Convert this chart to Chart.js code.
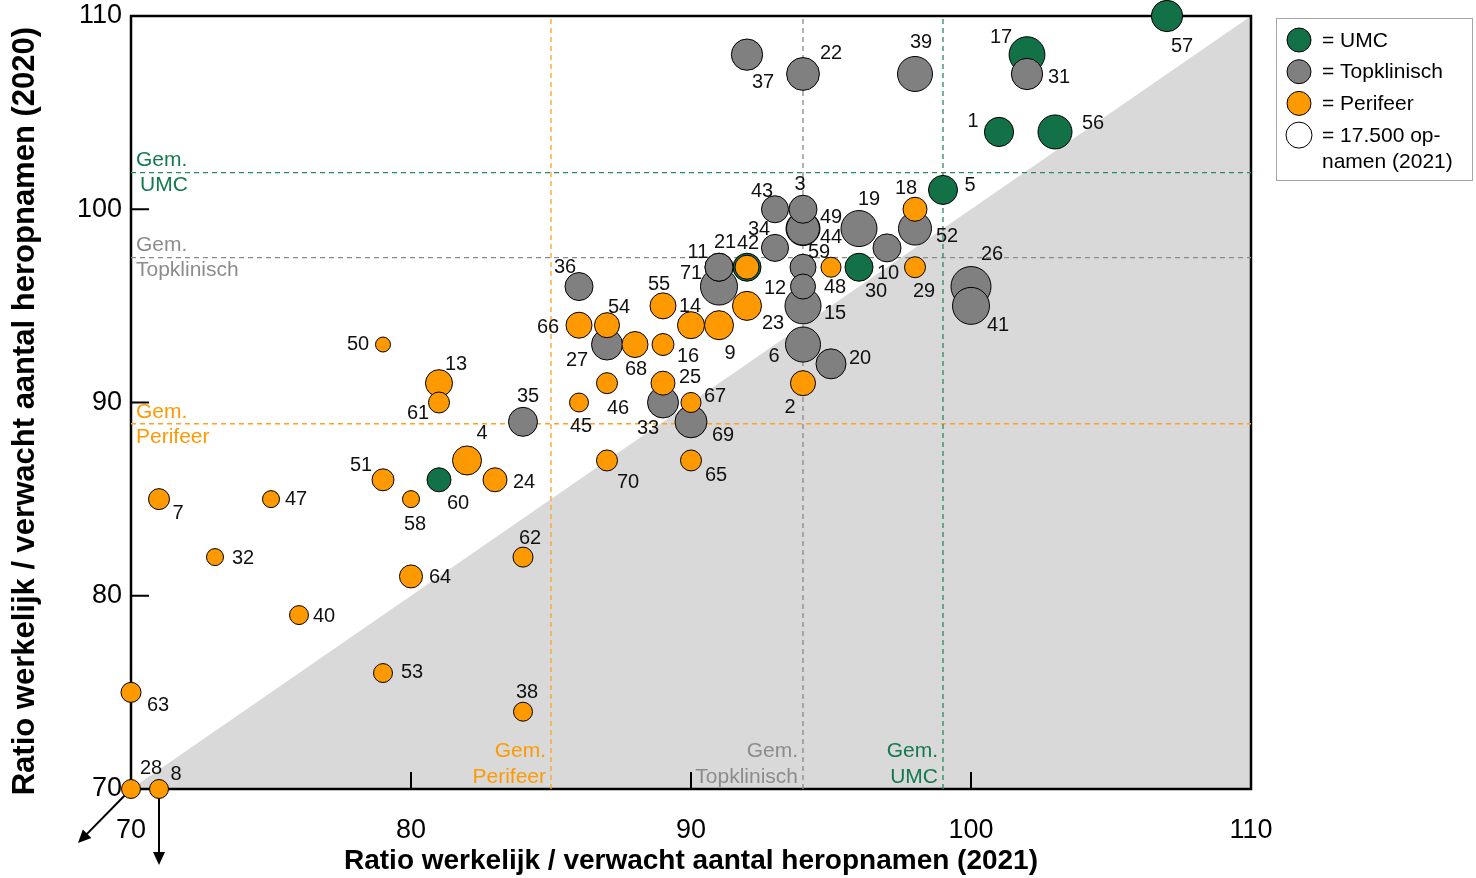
<!DOCTYPE html>
<html>
<head>
<meta charset="utf-8">
<script src="https://cdn.jsdelivr.net/npm/chart.js@4.4.0/dist/chart.umd.min.js"></script>
<style>
  html, body { margin: 0; padding: 0; background: #fff; }
</style>
</head>
<body>
<canvas id="myChart" width="1476" height="878"></canvas>
<script>
// nummer ziekenhuis ("" = niet gelabeld, ligt onder 42)
const nummers = [
  "1","2","3","4","5","6","7","8","9","10",
  "11","12","13","14","15","16","17","18","19","20",
  "21","22","23","24","25","26","27","28","29","30",
  "31","32","33","34","35","36","37","38","39","40",
  "41","42","43","44","45","46","47","48","49","50",
  "51","52","53","54","55","56","57","58","59","60",
  "61","62","63","64","65","66","67","68","69","70",
  "71",""
];
const ratio2021 = [
  101, 94, 94, 82, 99, 94, 71, 71, 91, 97,
  91, 94, 81, 90, 94, 89, 102, 98, 96, 95,
  91, 94, 92, 83, 89, 100, 87, 70, 98, 96,
  102, 73, 89, 93, 84, 86, 92, 84, 98, 76,
  100, 92, 93, 94, 86, 87, 75, 95, 94, 79,
  79, 98, 79, 87, 89, 103, 107, 80, 94, 81,
  81, 84, 70, 80, 90, 86, 90, 88, 90, 87,
  91, 92
];
const ratio2020 = [
  104, 91, 100, 87, 101, 93, 85, 70, 94, 98,
  97, 96, 91, 94, 95, 93, 108, 100, 99, 92,
  97, 107, 95, 86, 91, 96, 93, 70, 97, 97,
  107, 82, 90, 98, 89, 96, 108, 74, 107, 79,
  95, 97, 100, 99, 90, 91, 85, 97, 99, 93,
  86, 99, 76, 94, 95, 104, 110, 85, 97, 86,
  90, 82, 75, 81, 87, 94, 90, 93, 89, 87,
  96, 97
];
// U = UMC, T = Topklinisch, P = Perifeer
const soort = [
  "U","P","T","P","U","T","P","P","P","T",
  "T","T","P","P","T","P","U","P","T","T",
  "T","T","P","P","P","T","T","P","P","U",
  "T","P","T","T","T","T","T","P","T","P",
  "T","P","T","T","P","P","P","P","T","P",
  "P","T","P","P","P","U","U","P","T","U",
  "P","P","P","P","P","P","P","P","T","P",
  "T","U"
];
// aantal opnamen 2021 (bepaalt grootte bubbel)
const opnamen = [
  22100, 16200, 20300, 21800, 21800, 31700, 11400, 9300, 21800, 20300,
  20300, 16200, 18900, 18900, 33600, 12500, 33200, 14900, 33600, 23300,
  20300, 27900, 21800, 14900, 14900, 41400, 24900, 9300, 11400, 20300,
  25400, 7500, 24900, 18900, 21800, 20300, 25400, 9300, 31700, 9300,
  35400, 14900, 18900, 28200, 9300, 11400, 7500, 10400, 29900, 5800,
  12500, 28200, 9300, 16200, 17500, 29900, 25400, 7500, 17500, 14900,
  11400, 10400, 10400, 13700, 11400, 17500, 10400, 17500, 26500, 11400,
  35400, 20300
];

const gemNamen = ["UMC", "Topklinisch", "Perifeer"];
const gem2021 = [99, 94, 85];
const gem2020 = [101.9, 97.5, 88.9];
const asTicks = [70, 80, 90, 100, 110];
const buitenBereik = ["28", "8"]; // waarden onder 70, pijl naar buiten

const xTitel = "Ratio werkelijk / verwacht aantal heropnamen (2021)";
const yTitel = "Ratio werkelijk / verwacht aantal heropnamen (2020)";

// ---- opmaak ----
const FONT = "'Liberation Sans', Arial, sans-serif";
const kleuren = { U: "#137148", T: "#808080", P: "#ff9900" };
const lijnKleuren = ["#2a8a5c", "#8a8a8a", "#ffa21f"];
const tekstKleuren = ["#137a4e", "#8c8c8c", "#ff9900"];
const legendaStraal = 13; // straal bij 17.500 opnamen

// positie van elk label t.o.v. het midden van de bubbel
const labelOffsets = [
  [-26,-10],[-13,24],[-3,-25],[15,-27],[27,-4],[-29,12],[19,14],[17,-15],[11,28],[1,26],
  [-21,-15],[-28,2],[17,-19],[-1,-19],[32,8],[25,12],[-26,-17],[-9,-21],[10,-29],[29,-5],
  [6,-25],[28,-20],[26,18],[29,3],[27,-6],[21,-32],[-30,16],[20,-21],[9,24],[17,24],
  [32,4],[28,1],[-15,26],[-16,-18],[5,-25],[-14,-19],[16,28],[4,-19],[6,-31],[25,1],
  [27,20],[1,-24],[-13,-18],[28,9],[2,24],[11,25],[25,0],[4,20],[28,-11],[-25,0],
  [-22,-14],[32,8],[29,-1],[12,-18],[-4,-21],[38,-8],[15,30],[4,25],[16,-15],[19,24],
  [-21,11],[7,-19],[27,13],[29,1],[25,15],[-31,2],[24,-6],[1,25],[32,14],[21,22],
  [-28,-13],[0,0]
];
const pijlRichting = { "28": [-53, 54], "8": [0, 76] };

function straal(n) {
  return legendaStraal * Math.sqrt(n / 17500);
}

function punten(type) {
  return nummers
    .map((nr, i) => ({ x: ratio2021[i], y: ratio2020[i], r: straal(opnamen[i]), i }))
    .filter((p) => soort[p.i] === type)
    .sort((a, b) => b.r - a.r);
}

const asMin = asTicks[0];
const asMax = asTicks[asTicks.length - 1];

const gemLijnen = [];
gemNamen.forEach((naam, k) => {
  const stijl = {
    type: "line",
    borderColor: lijnKleuren[k],
    borderDash: [5, 4],
    borderWidth: 1.3,
    pointRadius: 0,
    fill: false,
    order: 10,
  };
  gemLijnen.push({ ...stijl, label: "v" + naam, data: [{ x: gem2021[k], y: asMin }, { x: gem2021[k], y: asMax }] });
  gemLijnen.push({ ...stijl, label: "h" + naam, data: [{ x: asMin, y: gem2020[k] }, { x: asMax, y: gem2020[k] }] });
});

const bubbelStijl = { type: "bubble", borderColor: "#000", borderWidth: 1, clip: false };

const datasets = [
  {
    type: "line",
    label: "driehoek",
    data: [{ x: asMin, y: asMin }, { x: asMax, y: asMax }],
    fill: "start",
    backgroundColor: "#d9d9d9",
    borderColor: "rgba(0,0,0,0)",
    borderWidth: 0,
    pointRadius: 0,
    order: 20,
  },
  ...gemLijnen,
  { ...bubbelStijl, label: "UMC", data: punten("U"), backgroundColor: kleuren.U, order: 3 },
  { ...bubbelStijl, label: "Topklinisch", data: punten("T"), backgroundColor: kleuren.T, order: 2 },
  { ...bubbelStijl, label: "Perifeer", data: punten("P"), backgroundColor: kleuren.P, order: 1 },
];

function pijl(ctx, x1, y1, x2, y2) {
  const hoek = Math.atan2(y2 - y1, x2 - x1);
  const kop = 13;
  ctx.beginPath();
  ctx.moveTo(x1, y1);
  ctx.lineTo(x2 - kop * 0.8 * Math.cos(hoek), y2 - kop * 0.8 * Math.sin(hoek));
  ctx.stroke();
  ctx.beginPath();
  ctx.moveTo(x2, y2);
  ctx.lineTo(x2 - kop * Math.cos(hoek) + 6 * Math.sin(hoek), y2 - kop * Math.sin(hoek) - 6 * Math.cos(hoek));
  ctx.lineTo(x2 - kop * Math.cos(hoek) - 6 * Math.sin(hoek), y2 - kop * Math.sin(hoek) + 6 * Math.cos(hoek));
  ctx.closePath();
  ctx.fill();
}

// kader, tickstreepjes en pijlen: direct na de grijze driehoek
const kaderPlugin = {
  id: "kader",
  afterDatasetDraw(chart, args) {
    if (chart.data.datasets[args.index].label !== "driehoek") return;
    const { ctx, chartArea: ca, scales } = chart;
    ctx.save();
    ctx.strokeStyle = "#000";
    ctx.fillStyle = "#000";
    ctx.lineWidth = 2.5;
    ctx.strokeRect(ca.left, ca.top, ca.right - ca.left, ca.bottom - ca.top);
    ctx.lineWidth = 2;
    asTicks.slice(1, -1).forEach((v) => {
      const y = scales.y.getPixelForValue(v);
      const x = scales.x.getPixelForValue(v);
      ctx.beginPath();
      ctx.moveTo(ca.left, y);
      ctx.lineTo(ca.left + 18, y);
      ctx.moveTo(x, ca.bottom);
      ctx.lineTo(x, ca.bottom - 17);
      ctx.stroke();
    });
    buitenBereik.forEach((nr) => {
      const i = nummers.indexOf(nr);
      const px = scales.x.getPixelForValue(ratio2021[i]);
      const py = scales.y.getPixelForValue(ratio2020[i]);
      const [dx, dy] = pijlRichting[nr];
      pijl(ctx, px, py, px + dx, py + dy);
    });
    ctx.restore();
  },
};

// nummers bij de bubbels en teksten bij de gemiddelde-lijnen
const labelPlugin = {
  id: "labels",
  afterDatasetsDraw(chart) {
    const { ctx, chartArea: ca, scales } = chart;
    ctx.save();
    ctx.textAlign = "center";
    ctx.textBaseline = "middle";
    ctx.fillStyle = "#111";
    ctx.font = "20px " + FONT;
    chart.data.datasets.forEach((ds, d) => {
      if (ds.type !== "bubble") return;
      const meta = chart.getDatasetMeta(d);
      meta.data.forEach((el, j) => {
        const i = ds.data[j].i;
        if (!nummers[i]) return;
        const [dx, dy] = labelOffsets[i];
        ctx.fillText(nummers[i], el.x + dx, el.y + dy);
      });
    });

    ctx.font = "21px " + FONT;
    gemNamen.forEach((naam, k) => {
      ctx.fillStyle = tekstKleuren[k];
      // horizontale lijn: links in de grafiek
      const y = scales.y.getPixelForValue(gem2020[k]);
      ctx.textAlign = "left";
      ctx.fillText("Gem.", ca.left + 5, y - 12);
      ctx.fillText(naam, ca.left + (naam === "UMC" ? 9 : 5), y + 13);
      // verticale lijn: onderaan, rechts uitgelijnd
      const x = scales.x.getPixelForValue(gem2021[k]);
      ctx.textAlign = "right";
      ctx.fillText("Gem.", x - 5, ca.bottom - 38);
      ctx.fillText(naam, x - 5, ca.bottom - 12);
    });
    ctx.restore();
  },
};

const legendaItems = [["= UMC"], ["= Topklinisch"], ["= Perifeer"], ["= 17.500 op-", "namen (2021)"]];
const legendaKleuren = [kleuren.U, kleuren.T, kleuren.P, "#fff"];

const legendaPlugin = {
  id: "legenda",
  afterDraw(chart) {
    const ctx = chart.ctx;
    const x0 = chart.chartArea.right + 25;
    const y0 = 18;
    ctx.save();
    ctx.strokeStyle = "#a6a6a6";
    ctx.lineWidth = 1;
    ctx.strokeRect(x0 + 0.5, y0 + 0.5, 196, 162);
    ctx.font = "21px " + FONT;
    ctx.textAlign = "left";
    ctx.textBaseline = "middle";
    legendaItems.forEach((regels, k) => {
      const cy = y0 + 22 + k * 31.7;
      ctx.beginPath();
      ctx.arc(x0 + 23, cy, k === 3 ? straal(17500) : 12, 0, Math.PI * 2);
      ctx.fillStyle = legendaKleuren[k];
      ctx.fill();
      ctx.strokeStyle = "#000";
      ctx.stroke();
      ctx.fillStyle = "#000";
      regels.forEach((t, r) => ctx.fillText(t, x0 + 46, cy + 1 + r * 26));
    });
    ctx.restore();
  },
};

const tickFont = { family: FONT, size: 27 };

function vastePadding(s) {
  s.paddingTop = 0;
  s.paddingBottom = 0;
  s.paddingLeft = 0;
  s.paddingRight = 0;
}

new Chart(document.getElementById("myChart"), {
  type: "bubble",
  data: { datasets },
  options: {
    responsive: false,
    devicePixelRatio: 1,
    animation: false,
    events: [],
    layout: { autoPadding: false, padding: { top: 16, right: 225, bottom: 0, left: 0 } },
    plugins: {
      legend: { display: false },
      tooltip: { enabled: false },
    },
    scales: {
      x: {
        type: "linear",
        min: asMin,
        max: asMax,
        ticks: { stepSize: 10, font: tickFont, color: "#000", padding: 25 },
        grid: { display: false, drawTicks: false },
        border: { display: false },
        title: {
          display: true,
          text: xTitel,
          color: "#000",
          font: { family: FONT, size: 28, weight: "bold" },
          padding: { top: 0, bottom: 0 },
        },
        afterFit: (s) => { s.height = 89; vastePadding(s); },
      },
      y: {
        type: "linear",
        min: asMin,
        max: asMax,
        ticks: { stepSize: 10, font: tickFont, color: "#000", padding: 9 },
        grid: { display: false, drawTicks: false },
        border: { display: false },
        title: {
          display: true,
          // spaties achteraan schuiven de titel iets omlaag
          text: yTitel + "  ",
          color: "#000",
          font: { family: FONT, size: 31, weight: "bold" },
          padding: { top: 7, bottom: 0 },
        },
        afterFit: (s) => { s.width = 131; vastePadding(s); },
      },
    },
  },
  plugins: [kaderPlugin, labelPlugin, legendaPlugin],
});
</script>
</body>
</html>
